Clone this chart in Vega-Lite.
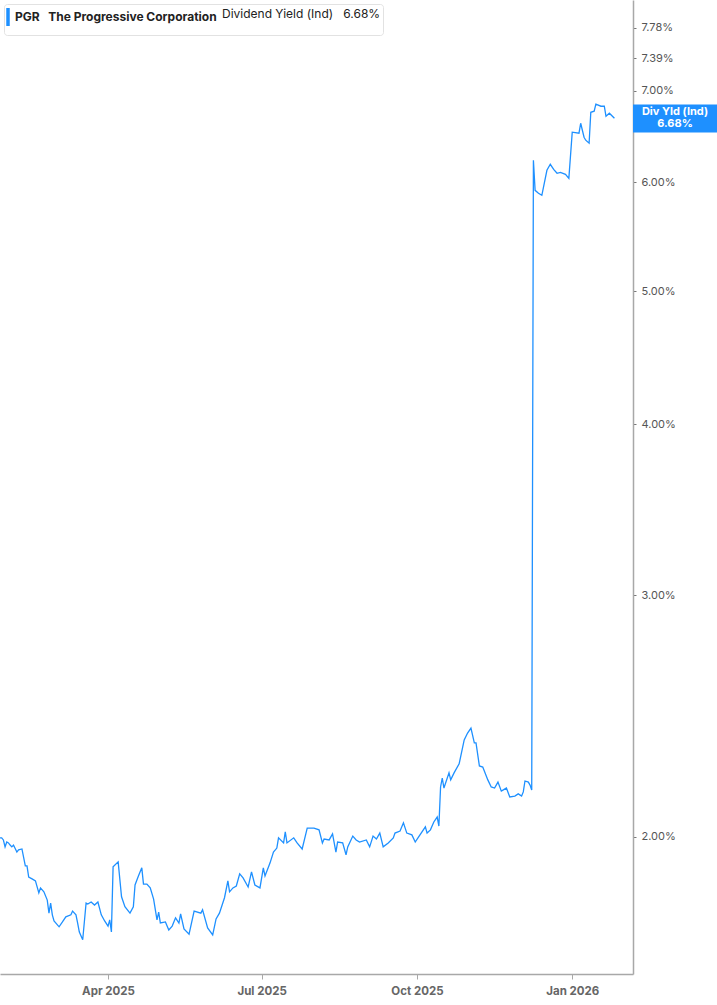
{
  "$schema": "https://vega.github.io/schema/vega-lite/v6.json",
  "width": 633,
  "height": 974,
  "padding": 0,
  "background": "white",
  "config": {
    "view": {"stroke": null},
    "font": "Inter"
  },
  "datasets": {
    "pgr": [
      {"date": "2025-01-27", "yield": 1.997, "series": "PGR"},
      {"date": "2025-01-28", "yield": 1.997, "series": "PGR"},
      {"date": "2025-01-29", "yield": 1.990, "series": "PGR"},
      {"date": "2025-01-30", "yield": 1.967, "series": "PGR"},
      {"date": "2025-01-31", "yield": 1.983, "series": "PGR"},
      {"date": "2025-02-01", "yield": 1.980, "series": "PGR"},
      {"date": "2025-02-02", "yield": 1.973, "series": "PGR"},
      {"date": "2025-02-03", "yield": 1.967, "series": "PGR"},
      {"date": "2025-02-04", "yield": 1.973, "series": "PGR"},
      {"date": "2025-02-06", "yield": 1.950, "series": "PGR"},
      {"date": "2025-02-07", "yield": 1.957, "series": "PGR"},
      {"date": "2025-02-09", "yield": 1.960, "series": "PGR"},
      {"date": "2025-02-11", "yield": 1.905, "series": "PGR"},
      {"date": "2025-02-12", "yield": 1.905, "series": "PGR"},
      {"date": "2025-02-13", "yield": 1.870, "series": "PGR"},
      {"date": "2025-02-15", "yield": 1.864, "series": "PGR"},
      {"date": "2025-02-17", "yield": 1.858, "series": "PGR"},
      {"date": "2025-02-19", "yield": 1.821, "series": "PGR"},
      {"date": "2025-02-20", "yield": 1.836, "series": "PGR"},
      {"date": "2025-02-22", "yield": 1.824, "series": "PGR"},
      {"date": "2025-02-24", "yield": 1.799, "series": "PGR"},
      {"date": "2025-02-25", "yield": 1.760, "series": "PGR"},
      {"date": "2025-02-26", "yield": 1.790, "series": "PGR"},
      {"date": "2025-02-27", "yield": 1.755, "series": "PGR"},
      {"date": "2025-02-28", "yield": 1.737, "series": "PGR"},
      {"date": "2025-03-03", "yield": 1.720, "series": "PGR"},
      {"date": "2025-03-05", "yield": 1.734, "series": "PGR"},
      {"date": "2025-03-07", "yield": 1.749, "series": "PGR"},
      {"date": "2025-03-10", "yield": 1.755, "series": "PGR"},
      {"date": "2025-03-11", "yield": 1.766, "series": "PGR"},
      {"date": "2025-03-13", "yield": 1.755, "series": "PGR"},
      {"date": "2025-03-14", "yield": 1.731, "series": "PGR"},
      {"date": "2025-03-15", "yield": 1.705, "series": "PGR"},
      {"date": "2025-03-17", "yield": 1.683, "series": "PGR"},
      {"date": "2025-03-19", "yield": 1.790, "series": "PGR"},
      {"date": "2025-03-20", "yield": 1.787, "series": "PGR"},
      {"date": "2025-03-22", "yield": 1.793, "series": "PGR"},
      {"date": "2025-03-24", "yield": 1.784, "series": "PGR"},
      {"date": "2025-03-26", "yield": 1.793, "series": "PGR"},
      {"date": "2025-03-28", "yield": 1.755, "series": "PGR"},
      {"date": "2025-03-30", "yield": 1.737, "series": "PGR"},
      {"date": "2025-04-01", "yield": 1.722, "series": "PGR"},
      {"date": "2025-04-02", "yield": 1.740, "series": "PGR"},
      {"date": "2025-04-03", "yield": 1.705, "series": "PGR"},
      {"date": "2025-04-04", "yield": 1.902, "series": "PGR"},
      {"date": "2025-04-07", "yield": 1.918, "series": "PGR"},
      {"date": "2025-04-09", "yield": 1.809, "series": "PGR"},
      {"date": "2025-04-11", "yield": 1.779, "series": "PGR"},
      {"date": "2025-04-14", "yield": 1.760, "series": "PGR"},
      {"date": "2025-04-16", "yield": 1.779, "series": "PGR"},
      {"date": "2025-04-17", "yield": 1.845, "series": "PGR"},
      {"date": "2025-04-19", "yield": 1.873, "series": "PGR"},
      {"date": "2025-04-21", "yield": 1.899, "series": "PGR"},
      {"date": "2025-04-22", "yield": 1.848, "series": "PGR"},
      {"date": "2025-04-24", "yield": 1.848, "series": "PGR"},
      {"date": "2025-04-26", "yield": 1.836, "series": "PGR"},
      {"date": "2025-04-28", "yield": 1.802, "series": "PGR"},
      {"date": "2025-04-30", "yield": 1.740, "series": "PGR"},
      {"date": "2025-05-01", "yield": 1.763, "series": "PGR"},
      {"date": "2025-05-02", "yield": 1.731, "series": "PGR"},
      {"date": "2025-05-05", "yield": 1.734, "series": "PGR"},
      {"date": "2025-05-07", "yield": 1.711, "series": "PGR"},
      {"date": "2025-05-09", "yield": 1.722, "series": "PGR"},
      {"date": "2025-05-11", "yield": 1.746, "series": "PGR"},
      {"date": "2025-05-13", "yield": 1.731, "series": "PGR"},
      {"date": "2025-05-14", "yield": 1.758, "series": "PGR"},
      {"date": "2025-05-16", "yield": 1.714, "series": "PGR"},
      {"date": "2025-05-19", "yield": 1.699, "series": "PGR"},
      {"date": "2025-05-22", "yield": 1.766, "series": "PGR"},
      {"date": "2025-05-26", "yield": 1.760, "series": "PGR"},
      {"date": "2025-05-27", "yield": 1.770, "series": "PGR"},
      {"date": "2025-05-30", "yield": 1.717, "series": "PGR"},
      {"date": "2025-06-02", "yield": 1.697, "series": "PGR"},
      {"date": "2025-06-04", "yield": 1.743, "series": "PGR"},
      {"date": "2025-06-06", "yield": 1.760, "series": "PGR"},
      {"date": "2025-06-09", "yield": 1.806, "series": "PGR"},
      {"date": "2025-06-11", "yield": 1.858, "series": "PGR"},
      {"date": "2025-06-12", "yield": 1.824, "series": "PGR"},
      {"date": "2025-06-14", "yield": 1.836, "series": "PGR"},
      {"date": "2025-06-16", "yield": 1.842, "series": "PGR"},
      {"date": "2025-06-18", "yield": 1.880, "series": "PGR"},
      {"date": "2025-06-20", "yield": 1.867, "series": "PGR"},
      {"date": "2025-06-23", "yield": 1.839, "series": "PGR"},
      {"date": "2025-06-25", "yield": 1.886, "series": "PGR"},
      {"date": "2025-06-27", "yield": 1.845, "series": "PGR"},
      {"date": "2025-06-30", "yield": 1.836, "series": "PGR"},
      {"date": "2025-07-02", "yield": 1.899, "series": "PGR"},
      {"date": "2025-07-03", "yield": 1.873, "series": "PGR"},
      {"date": "2025-07-06", "yield": 1.915, "series": "PGR"},
      {"date": "2025-07-08", "yield": 1.950, "series": "PGR"},
      {"date": "2025-07-10", "yield": 1.963, "series": "PGR"},
      {"date": "2025-07-11", "yield": 1.997, "series": "PGR"},
      {"date": "2025-07-14", "yield": 1.980, "series": "PGR"},
      {"date": "2025-07-15", "yield": 2.017, "series": "PGR"},
      {"date": "2025-07-16", "yield": 1.980, "series": "PGR"},
      {"date": "2025-07-20", "yield": 1.997, "series": "PGR"},
      {"date": "2025-07-22", "yield": 1.980, "series": "PGR"},
      {"date": "2025-07-25", "yield": 1.960, "series": "PGR"},
      {"date": "2025-07-28", "yield": 2.030, "series": "PGR"},
      {"date": "2025-08-01", "yield": 2.030, "series": "PGR"},
      {"date": "2025-08-04", "yield": 2.024, "series": "PGR"},
      {"date": "2025-08-06", "yield": 1.980, "series": "PGR"},
      {"date": "2025-08-07", "yield": 1.993, "series": "PGR"},
      {"date": "2025-08-10", "yield": 1.990, "series": "PGR"},
      {"date": "2025-08-12", "yield": 2.010, "series": "PGR"},
      {"date": "2025-08-14", "yield": 1.950, "series": "PGR"},
      {"date": "2025-08-15", "yield": 1.983, "series": "PGR"},
      {"date": "2025-08-18", "yield": 1.980, "series": "PGR"},
      {"date": "2025-08-20", "yield": 1.941, "series": "PGR"},
      {"date": "2025-08-21", "yield": 1.967, "series": "PGR"},
      {"date": "2025-08-24", "yield": 2.003, "series": "PGR"},
      {"date": "2025-08-26", "yield": 1.990, "series": "PGR"},
      {"date": "2025-08-28", "yield": 1.983, "series": "PGR"},
      {"date": "2025-09-01", "yield": 1.990, "series": "PGR"},
      {"date": "2025-09-03", "yield": 1.967, "series": "PGR"},
      {"date": "2025-09-05", "yield": 2.003, "series": "PGR"},
      {"date": "2025-09-07", "yield": 1.993, "series": "PGR"},
      {"date": "2025-09-09", "yield": 2.013, "series": "PGR"},
      {"date": "2025-09-11", "yield": 1.967, "series": "PGR"},
      {"date": "2025-09-14", "yield": 1.980, "series": "PGR"},
      {"date": "2025-09-17", "yield": 1.997, "series": "PGR"},
      {"date": "2025-09-18", "yield": 2.013, "series": "PGR"},
      {"date": "2025-09-21", "yield": 2.020, "series": "PGR"},
      {"date": "2025-09-23", "yield": 2.048, "series": "PGR"},
      {"date": "2025-09-25", "yield": 2.013, "series": "PGR"},
      {"date": "2025-09-28", "yield": 2.007, "series": "PGR"},
      {"date": "2025-09-30", "yield": 1.983, "series": "PGR"},
      {"date": "2025-10-02", "yield": 2.000, "series": "PGR"},
      {"date": "2025-10-06", "yield": 2.034, "series": "PGR"},
      {"date": "2025-10-07", "yield": 2.013, "series": "PGR"},
      {"date": "2025-10-09", "yield": 2.024, "series": "PGR"},
      {"date": "2025-10-11", "yield": 2.051, "series": "PGR"},
      {"date": "2025-10-13", "yield": 2.068, "series": "PGR"},
      {"date": "2025-10-14", "yield": 2.037, "series": "PGR"},
      {"date": "2025-10-15", "yield": 2.175, "series": "PGR"},
      {"date": "2025-10-16", "yield": 2.208, "series": "PGR"},
      {"date": "2025-10-17", "yield": 2.171, "series": "PGR"},
      {"date": "2025-10-20", "yield": 2.227, "series": "PGR"},
      {"date": "2025-10-21", "yield": 2.201, "series": "PGR"},
      {"date": "2025-10-23", "yield": 2.227, "series": "PGR"},
      {"date": "2025-10-26", "yield": 2.261, "series": "PGR"},
      {"date": "2025-10-29", "yield": 2.354, "series": "PGR"},
      {"date": "2025-10-31", "yield": 2.381, "series": "PGR"},
      {"date": "2025-11-02", "yield": 2.401, "series": "PGR"},
      {"date": "2025-11-04", "yield": 2.342, "series": "PGR"},
      {"date": "2025-11-05", "yield": 2.342, "series": "PGR"},
      {"date": "2025-11-07", "yield": 2.253, "series": "PGR"},
      {"date": "2025-11-09", "yield": 2.249, "series": "PGR"},
      {"date": "2025-11-12", "yield": 2.201, "series": "PGR"},
      {"date": "2025-11-14", "yield": 2.175, "series": "PGR"},
      {"date": "2025-11-16", "yield": 2.171, "series": "PGR"},
      {"date": "2025-11-18", "yield": 2.193, "series": "PGR"},
      {"date": "2025-11-20", "yield": 2.160, "series": "PGR"},
      {"date": "2025-11-23", "yield": 2.171, "series": "PGR"},
      {"date": "2025-11-25", "yield": 2.139, "series": "PGR"},
      {"date": "2025-11-28", "yield": 2.142, "series": "PGR"},
      {"date": "2025-11-30", "yield": 2.150, "series": "PGR"},
      {"date": "2025-12-02", "yield": 2.142, "series": "PGR"},
      {"date": "2025-12-03", "yield": 2.157, "series": "PGR"},
      {"date": "2025-12-04", "yield": 2.197, "series": "PGR"},
      {"date": "2025-12-06", "yield": 2.193, "series": "PGR"},
      {"date": "2025-12-07", "yield": 2.182, "series": "PGR"},
      {"date": "2025-12-08", "yield": 2.164, "series": "PGR"},
      {"date": "2025-12-09", "yield": 6.228, "series": "PGR"},
      {"date": "2025-12-10", "yield": 5.921, "series": "PGR"},
      {"date": "2025-12-12", "yield": 5.892, "series": "PGR"},
      {"date": "2025-12-14", "yield": 5.872, "series": "PGR"},
      {"date": "2025-12-17", "yield": 6.124, "series": "PGR"},
      {"date": "2025-12-19", "yield": 6.186, "series": "PGR"},
      {"date": "2025-12-21", "yield": 6.134, "series": "PGR"},
      {"date": "2025-12-23", "yield": 6.093, "series": "PGR"},
      {"date": "2025-12-25", "yield": 6.103, "series": "PGR"},
      {"date": "2025-12-28", "yield": 6.083, "series": "PGR"},
      {"date": "2025-12-30", "yield": 6.042, "series": "PGR"},
      {"date": "2026-01-01", "yield": 6.528, "series": "PGR"},
      {"date": "2026-01-05", "yield": 6.517, "series": "PGR"},
      {"date": "2026-01-06", "yield": 6.627, "series": "PGR"},
      {"date": "2026-01-08", "yield": 6.473, "series": "PGR"},
      {"date": "2026-01-09", "yield": 6.441, "series": "PGR"},
      {"date": "2026-01-11", "yield": 6.409, "series": "PGR"},
      {"date": "2026-01-12", "yield": 6.750, "series": "PGR"},
      {"date": "2026-01-14", "yield": 6.762, "series": "PGR"},
      {"date": "2026-01-15", "yield": 6.842, "series": "PGR"},
      {"date": "2026-01-18", "yield": 6.819, "series": "PGR"},
      {"date": "2026-01-20", "yield": 6.819, "series": "PGR"},
      {"date": "2026-01-21", "yield": 6.705, "series": "PGR"},
      {"date": "2026-01-23", "yield": 6.739, "series": "PGR"},
      {"date": "2026-01-26", "yield": 6.682, "series": "PGR"}
    ],
    "tag": [
      {"yield": 6.68, "label": ["Div Yld (Ind)", "6.68%"]}
    ]
  },
  "layer": [
    {
      "data": {"name": "pgr"},
      "mark": {"type": "line", "strokeWidth": 1.3, "clip": true},
      "encoding": {
        "x": {
          "field": "date",
          "type": "temporal",
          "scale": {
            "domain": [
              {"year": 2025, "month": 1, "date": 27},
              {"year": 2026, "month": 2, "date": 6}
            ]
          },
          "axis": {
            "title": null,
            "values": [
              {"year": 2025, "month": 4, "date": 1},
              {"year": 2025, "month": 7, "date": 1},
              {"year": 2025, "month": 10, "date": 1},
              {"year": 2026, "month": 1, "date": 1}
            ],
            "format": "%b %Y",
            "grid": false,
            "domainColor": "#a8a8a8",
            "domainWidth": 1.5,
            "tickColor": "#a8a8a8",
            "tickSize": 5,
            "labelColor": "#666666",
            "labelFontWeight": "bold",
            "labelFontSize": 11.5,
            "labelPadding": 6
          }
        },
        "y": {
          "field": "yield",
          "type": "quantitative",
          "scale": {"type": "log", "domain": [1.589, 8.15], "nice": false},
          "axis": {
            "orient": "right",
            "title": null,
            "values": [2, 3, 4, 5, 6, 7, 7.39, 7.78],
            "labelExpr": "format(datum.value, '.2f') + '%'",
            "grid": false,
            "domainColor": "#a8a8a8",
            "domainWidth": 1.5,
            "tickColor": "#777777",
            "tickSize": 3,
            "labelColor": "#555555",
            "labelFontSize": 11,
            "labelPadding": 5
          }
        },
        "color": {
          "field": "series",
          "type": "nominal",
          "scale": {"range": ["#1e90ff"]},
          "legend": {
            "orient": "top-left",
            "offset": 4,
            "title": "Dividend Yield (Ind)\u00a0\u00a0\u00a06.68%",
            "titleOrient": "right",
            "titleFontWeight": "normal",
            "titleFontSize": 12,
            "titleColor": "#222222",
            "titlePadding": 5,
            "titleBaseline": "line-top",
            "titleLineHeight": 18,
            "titleAnchor": "start",
            "titleLimit": 0,
            "labelExpr": "'PGR\u00a0\u00a0\u00a0The Progressive Corporation'",
            "labelFontWeight": "bold",
            "labelFontSize": 12,
            "labelColor": "#222222",
            "labelOffset": -13,
            "labelLimit": 0,
            "symbolType": "M-1,-1L-1,1",
            "symbolSize": 324,
            "symbolStrokeWidth": 3.5,
            "fillColor": "white",
            "strokeColor": "#e2e2e2",
            "cornerRadius": 3,
            "padding": 2
          }
        }
      }
    },
    {
      "data": {"name": "tag"},
      "mark": {
        "type": "rect",
        "color": "#1e90ff",
        "clip": false,
        "yOffset": -14,
        "y2Offset": 14,
        "x2Offset": 84
      },
      "encoding": {
        "x": {"datum": {"year": 2026, "month": 2, "date": 6}, "type": "temporal"},
        "x2": {"datum": {"year": 2026, "month": 2, "date": 6}},
        "y": {"field": "yield", "type": "quantitative"},
        "y2": {"field": "yield"}
      }
    },
    {
      "data": {"name": "tag"},
      "mark": {
        "type": "text",
        "color": "white",
        "fontWeight": "bold",
        "fontSize": 11,
        "align": "center",
        "baseline": "middle",
        "lineHeight": 12,
        "dx": 42,
        "dy": -6,
        "clip": false
      },
      "encoding": {
        "x": {"datum": {"year": 2026, "month": 2, "date": 6}, "type": "temporal"},
        "y": {"field": "yield", "type": "quantitative"},
        "text": {"field": "label"}
      }
    }
  ]
}
